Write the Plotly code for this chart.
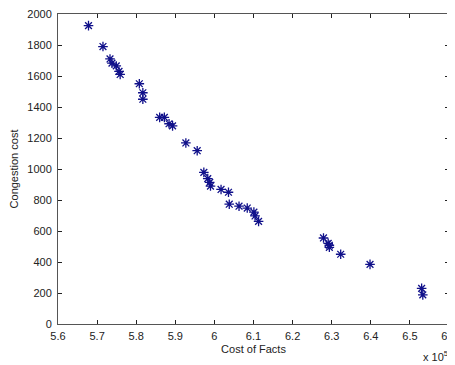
import numpy as np
import plotly.graph_objects as go

# Cost of Facts (raw units) and Congestion cost
cost_of_facts = [567800, 571500, 573300, 573800, 574900, 575600, 575900,
                 580800, 581700, 581700, 586000, 587200, 588400, 589300,
                 592700, 595600, 597300, 598300, 598800, 599000, 601700,
                 603600, 603800, 606300, 608400, 610100, 610400, 611300,
                 627900, 629100, 629400, 629400, 632300, 639800, 653000, 653300]
congestion_cost = [1925, 1790, 1710, 1683, 1665, 1630, 1610,
                   1550, 1492, 1450, 1333, 1333, 1292, 1278,
                   1168, 1118, 978, 938, 914, 890, 868,
                   850, 773, 760, 748, 722, 697, 662,
                   555, 520, 508, 495, 450, 385, 230, 188]

x_ticks = [5.6, 5.7, 5.8, 5.9, 6.0, 6.1, 6.2, 6.3, 6.4, 6.5, 6.6]
x_ticktext = ["5.6", "5.7", "5.8", "5.9", "6", "6.1", "6.2", "6.3", "6.4", "6.5", "6.6"]
y_ticks = [0, 200, 400, 600, 800, 1000, 1200, 1400, 1600, 1800, 2000]

x_scaled = np.array(cost_of_facts) / 1e5

font = dict(family="Liberation Sans, Arial, sans-serif", size=11, color="#222")

fig = go.Figure()
fig.add_trace(go.Scatter(
    x=x_scaled, y=congestion_cost, mode="markers",
    marker=dict(symbol="asterisk", size=8, color="#10108a",
                line=dict(width=1.3, color="#10108a")),
    showlegend=False,
))

axis_common = dict(showgrid=False, zeroline=False, showline=True, mirror="ticks",
                   linecolor="#555", linewidth=1, ticks="inside", ticklen=4,
                   tickcolor="#222", tickfont=font, automargin=False,
                   ticklabeloverflow="allow")

# page body has an 8px margin, so the figure is sized/placed to compensate
fig.update_layout(
    width=447, height=357,
    margin=dict(l=50, r=6, t=6, b=41),
    paper_bgcolor="white", plot_bgcolor="white",
    font=font,
    xaxis=dict(range=[5.6, 6.6], tickvals=x_ticks, ticktext=x_ticktext,
               ticklabelstandoff=2,
               title=dict(text="Cost of Facts", font=font, standoff=4), **axis_common),
    yaxis=dict(range=[0, 2000], tickvals=y_ticks, ticklabelstandoff=3,
               title=dict(text="Congestion cost", font=font, standoff=6), **axis_common),
    annotations=[dict(text="x 10<sup>5</sup>", x=1.0, y=0, xref="paper", yref="paper",
                      xanchor="right", yanchor="bottom", yshift=-41, xshift=1,
                      showarrow=False, font=font)],
)

fig.write_html("out.html")
